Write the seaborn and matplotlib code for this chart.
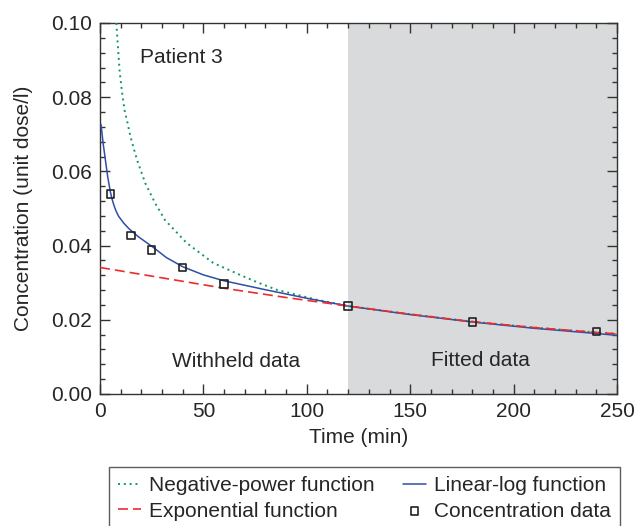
import pandas as pd
import matplotlib
matplotlib.use("Agg")
import matplotlib.pyplot as plt
import seaborn as sns
from matplotlib.ticker import MultipleLocator

# concentration measurements
t_data = [5, 15, 25, 40, 60, 120, 180, 240]
c_data = [0.0539, 0.0427, 0.0388, 0.0341, 0.0296, 0.0237, 0.0194, 0.0168]

# curves
t_pow = [7.9, 8.7, 9.5, 10.6, 11.9, 13.5, 14.7, 17.9, 21.9, 26.7, 31.4, 41.9,
         54.8, 67.7, 76.5, 85.4, 104.8, 120, 150, 180, 210, 240, 250]
c_pow = [0.1000, 0.0933, 0.0869, 0.0816, 0.0764, 0.0726, 0.0694, 0.0631, 0.0568,
         0.0514, 0.0469, 0.0407, 0.0353, 0.0321, 0.0300, 0.0281, 0.0254, 0.0237,
         0.0215, 0.0195, 0.0179, 0.0166, 0.0162]

t_lin = [0.5, 1.5, 2.6, 3.7, 5.0, 5.8, 6.6, 7.6, 9.0, 11.4, 13.9, 18.5, 25.8,
         32, 40, 50, 60, 80, 100, 120, 150, 180, 210, 240, 250]
c_lin = [0.0726, 0.0676, 0.0631, 0.0586, 0.0545, 0.0526, 0.0511, 0.0495, 0.0479,
         0.0461, 0.0446, 0.0424, 0.0395, 0.0368, 0.0343, 0.0321, 0.0305, 0.0281,
         0.0258, 0.0237, 0.0214, 0.0194, 0.0177, 0.0163, 0.0158]

t_exp = [0, 30, 60, 90, 120, 150, 180, 210, 240, 250]
c_exp = [0.0341, 0.0313, 0.0285, 0.0260, 0.0237, 0.0215, 0.0195, 0.0179, 0.0166, 0.0162]

fit_start, fit_end = 120, 250

sns.set_style("ticks")
plt.rcParams["font.family"] = ["Liberation Sans", "DejaVu Sans"]
plt.rcParams["font.size"] = 15

fig = plt.figure(figsize=(6.37, 5.26), dpi=100)
ax = fig.add_axes([0.157, 0.251, 0.8116, 0.7053])

ax.axvspan(fit_start, fit_end, color="#d9dadc", lw=0, zorder=0)

df_pow = pd.DataFrame({"t": t_pow, "c": c_pow})
df_lin = pd.DataFrame({"t": t_lin, "c": c_lin})
df_exp = pd.DataFrame({"t": t_exp, "c": c_exp})
df_data = pd.DataFrame({"t": t_data, "c": c_data})

sns.lineplot(data=df_pow, x="t", y="c", ax=ax, color="#14985a", lw=1.4,
             linestyle=(0, (1, 2)), label="Negative-power function", zorder=3)
sns.lineplot(data=df_lin, x="t", y="c", ax=ax, color="#2f4ea6", lw=1.1,
             label="Linear-log function", zorder=4)
sns.lineplot(data=df_exp, x="t", y="c", ax=ax, color="#ec2c2f", lw=1.2,
             linestyle=(0, (6, 3)), label="Exponential function", zorder=5)
sns.scatterplot(data=df_data, x="t", y="c", ax=ax, marker="s", s=28,
                facecolor="none", edgecolor="#222222", linewidth=1.2,
                label="Concentration data", zorder=6)

ax.set_xlim(0, 250)
ax.set_ylim(0, 0.10)
ax.xaxis.set_major_locator(MultipleLocator(50))
ax.xaxis.set_minor_locator(MultipleLocator(10))
ax.yaxis.set_major_locator(MultipleLocator(0.02))
ax.yaxis.set_minor_locator(MultipleLocator(0.004))
ax.yaxis.set_major_formatter(matplotlib.ticker.FormatStrFormatter("%.2f"))
ax.tick_params(which="both", direction="in", top=True, right=True,
               color="#333333", labelsize=15, pad=6)
ax.tick_params(which="major", length=7, width=1)
ax.tick_params(which="minor", length=3.6, width=1)
for s in ax.spines.values():
    s.set_color("#333333")
    s.set_linewidth(1)

ax.set_xlabel("Time (min)", fontsize=15, labelpad=5)
ax.set_ylabel("Concentration (unit dose/l)", fontsize=15, labelpad=13)

ax.text(19.3, 0.0906, "Patient 3", fontsize=15, va="center", ha="left")
ax.text(65.6, 0.0087, "Withheld data", fontsize=15, va="center", ha="center")
ax.text(184, 0.0091, "Fitted data", fontsize=15, va="center", ha="center")

handles, labels = ax.get_legend_handles_labels()
ax.legend_.remove()
order = [0, 2, 1, 3]
leg = fig.legend([handles[i] for i in order], [labels[i] for i in order],
                 loc="upper center", bbox_to_anchor=(0.572, 0.132), ncol=2,
                 frameon=True, fancybox=False, edgecolor="#333333",
                 fontsize=15, handlelength=1.1, handletextpad=0.35,
                 columnspacing=1.4, borderpad=0.45, labelspacing=0.3)
leg.get_frame().set_linewidth(1)

fig.savefig("out.png", dpi=100)
